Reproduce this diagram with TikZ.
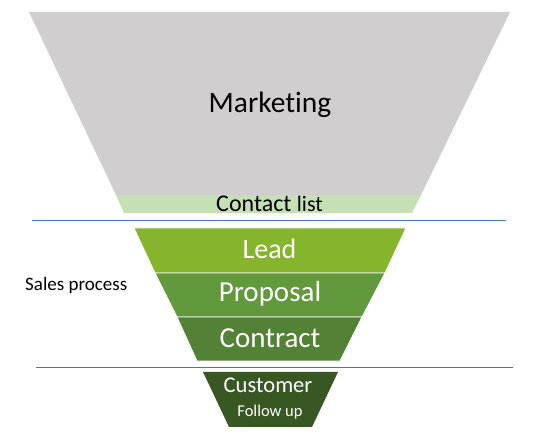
\documentclass[tikz,border=0pt]{standalone}
\usepackage{fontspec}
\setmainfont[Ligatures=CommonOff]{Carlito}
\definecolor{mktgray}{HTML}{D0CECE}
\definecolor{contactgreen}{HTML}{C5E0B4}
\definecolor{leadgreen}{HTML}{86B42C}
\definecolor{propgreen}{HTML}{62993C}
\definecolor{contrgreen}{HTML}{538135}
\definecolor{custgreen}{HTML}{385723}
\definecolor{sepblue}{HTML}{4472C4}
\begin{document}
\begin{tikzpicture}[x=1pt,y=-1pt,
  stage/.style={draw=white,line width=0.8pt},
  sep/.style={draw=sepblue,line width=0.9pt},
  dark/.style={anchor=base,text=black,inner sep=0pt},
  light/.style={anchor=base,text=white,inner sep=0pt}]
\useasboundingbox (0,0) rectangle (542,443);
% funnel stages
\fill[mktgray] (29,12) -- (510,12) -- (421,195) -- (116,195) -- cycle;
\fill[contactgreen] (116,195) -- (421,195) -- (412,213) -- (124,213) -- cycle;
\path[fill=leadgreen,stage] (134,228) -- (406,228) -- (385,273) -- (155,273) -- cycle;
\path[fill=propgreen,stage] (155,273) -- (385,273) -- (362,317) -- (177,317) -- cycle;
\path[fill=contrgreen,stage] (177,317) -- (362,317) -- (340,361) -- (197,361) -- cycle;
\fill[custgreen] (203,372) -- (338,372) -- (312,427) -- (229,427) -- cycle;
% separator lines
\coordinate (s1a) at (32,220);
\coordinate (s1b) at (506,220);
\coordinate (s2a) at (36,367);
\coordinate (s2b) at (513,367);
\draw[sep] (s1a) -- (s1b);
\draw[sep] (s2a) -- (s2b);
% labels
\node[dark,font=\fontsize{29.5}{30}\selectfont] (mkt) at (270,113) {Marketing};
\node[dark] (contact) at (269.5,212) {\fontsize{24}{25}\selectfont Contact \fontsize{22}{23}\selectfont list};
\node[light,font=\fontsize{28}{29}\selectfont] (lead) at (269.5,259) {Lead};
\node[light,font=\fontsize{29}{30}\selectfont] (prop) at (270,302) {Proposal};
\node[light,font=\fontsize{29}{30}\selectfont] (contr) at (270,348) {Contract};
\node[light,font=\fontsize{22.5}{24}\selectfont] (cust) at (268,393) {Customer};
\node[light,font=\fontsize{16.5}{18}\selectfont] (follow) at (270,417) {Follow up};
\node[dark,anchor=base west,font=\fontsize{19}{20}\selectfont] (sales) at (25,291) {Sales process};
\end{tikzpicture}
\end{document}
